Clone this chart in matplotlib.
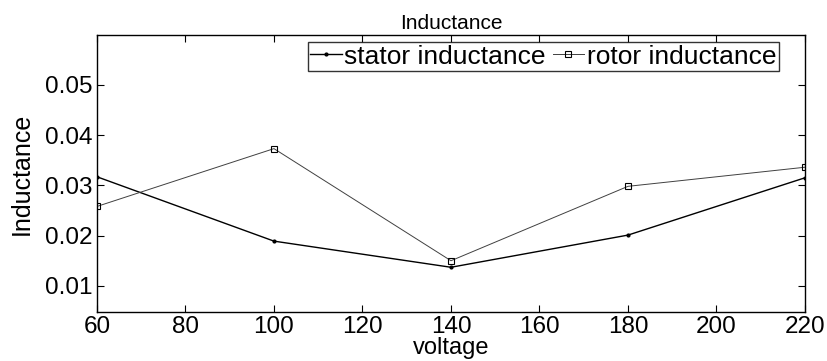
import matplotlib
matplotlib.use("Agg")
import matplotlib.pyplot as plt

voltage = [60, 100, 140, 180, 220]
stator_inductance = [0.0317, 0.0189, 0.0137, 0.0201, 0.0315]
rotor_inductance = [0.0258, 0.0373, 0.0150, 0.0298, 0.0336]
x_ticks = [60, 80, 100, 120, 140, 160, 180, 200, 220]
y_ticks = [0.01, 0.02, 0.03, 0.04, 0.05]

plt.rcParams['font.family'] = ['Liberation Sans', 'DejaVu Sans']

fig = plt.figure(figsize=(8.28, 3.61), dpi=100)
ax = fig.add_axes([0.1171, 0.1357, 0.9722 - 0.1171, 0.903 - 0.1357])

ax.plot(voltage, stator_inductance, color='black', lw=1.0, marker='.',
        markersize=4, label='stator inductance')
ax.plot(voltage, rotor_inductance, color='#404040', lw=0.7, marker='s',
        markersize=4.5, markerfacecolor='none', markeredgecolor='black',
        markeredgewidth=0.8, label='rotor inductance')

ax.set_xlim(60, 220)
ax.set_ylim(0.0048, 0.0599)
ax.set_xticks(x_ticks)
ax.set_yticks(y_ticks)
ax.set_yticklabels(['0.01', '0.02', '0.03', '0.04', '0.05'])
ax.tick_params(direction='in', top=True, right=True, length=5, width=0.8,
               labelsize=17.5, pad=3)
for s in ax.spines.values():
    s.set_linewidth(1.0)

ax.set_title('Inductance', fontsize=15, pad=4)
ax.set_xlabel('voltage', fontsize=17, labelpad=-1)
ax.set_ylabel('Inductance', fontsize=18, labelpad=8)

leg = ax.legend(loc='upper right', bbox_to_anchor=(0.9633, 0.9747),
                ncol=2, fontsize=19, frameon=True, fancybox=False,
                borderaxespad=0, handlelength=1.2, handletextpad=0.1,
                columnspacing=0.25, borderpad=0.1)
leg.get_frame().set_edgecolor('black')
leg.get_frame().set_linewidth(1.0)

fig.savefig('out.png', dpi=100)
